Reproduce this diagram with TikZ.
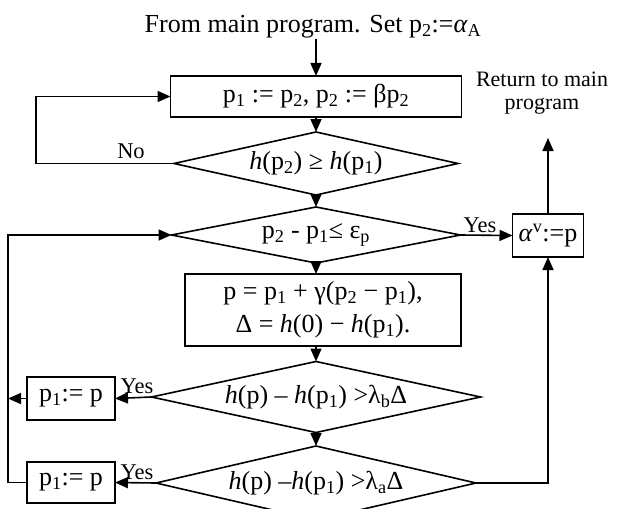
\documentclass[tikz,border=0pt]{standalone}
\usepackage{fontspec}
\setmainfont{Liberation Serif}
\usetikzlibrary{arrows.meta,shapes.geometric}
\newcommand{\sbx}[1]{\textsubscript{#1}}
\newcommand{\spx}[1]{\textsuperscript{#1}}
\begin{document}
\begin{tikzpicture}[x=1pt,y=-1pt,
  every node/.style={font=\fontsize{26}{33}\selectfont},
  box/.style={draw, line width=1.6pt, rectangle, inner sep=0pt, outer sep=0pt},
  dia/.style={draw, line width=1.6pt, diamond, inner sep=0pt, outer sep=0pt},
  lbl/.style={font=\fontsize{22.5}{26}\selectfont, inner sep=0pt},
  conn/.style={line width=1.6pt},
  arr/.style={conn, -{Triangle[length=13pt,width=11pt]}}]
\useasboundingbox (0,0) rectangle (617,508);
\clip (0,0) rectangle (617,508);
% nodes
\node[inner sep=0pt, anchor=base] (start) at (313,33) {From main program. Set p\sbx{2}:=\textit{α}\sbx{A}};
\node[box, minimum width=291pt, minimum height=41pt] (b1) at (316,96.5) {p\sbx{1} := p\sbx{2}, p\sbx{2} := βp\sbx{2}};
\node[dia, minimum width=284pt, minimum height=63pt,
  label={center:\textit{h}(p\sbx{2}) ≥ \textit{h}(p\sbx{1})}] (d1) at (316,163.5) {};
\node[dia, minimum width=289pt, minimum height=56pt,
  label={center:p\sbx{2} - p\sbx{1}≤ ε\sbx{p}}] (d2) at (316,235) {};
\node[box, minimum width=276pt, minimum height=72pt, align=center] (b2) at (323,310)
  {p = p\sbx{1} + γ(p\sbx{2} − p\sbx{1}),\\ Δ = \textit{h}(0) − \textit{h}(p\sbx{1}).};
\node[dia, minimum width=329pt, minimum height=71pt,
  label={center:\textit{h}(p) – \textit{h}(p\sbx{1}) >λ\sbx{b}Δ}] (d3) at (316,397) {};
\node[dia, minimum width=320pt, minimum height=74pt,
  label={center:\textit{h}(p) –\textit{h}(p\sbx{1}) >λ\sbx{a}Δ}] (d4) at (316,483) {};
\node[box, minimum width=71pt, minimum height=43pt] (al) at (548,235.5) {\textit{α}\spx{v}:=p};
\node[box, minimum width=88pt, minimum height=43pt] (pt) at (71,398.5) {p\sbx{1}:= p};
\node[box, minimum width=88pt, minimum height=41pt] (pb) at (71,482.5) {p\sbx{1}:= p};
\node[lbl, align=center, font=\fontsize{22}{23}\selectfont] (ret) at (542,93) {Return to main\\program};
\node[lbl] (no) at (131,151) {No};
\node[lbl] (y1) at (480,225) {Yes};
\node[lbl] (y2) at (137,386) {Yes};
\node[lbl] (y3) at (137,472) {Yes};
\coordinate (L1) at (36,163.5);
\coordinate (L2) at (8,482.5);
\coordinate (R) at (548,138);
% connectors
\draw[arr] (b1.north |- start.south) -- (b1.north);
\draw[arr] (b1.south) -- (d1.north);
\draw[arr] (d1.south) -- (d2.north);
\draw[arr] (d2.south) -- (d2.south |- b2.north);
\draw[arr] (b2.south -| d3.north) -- (d3.north);
\draw[arr] (d3.south) -- (d4.north);
\draw[arr] (d1.west) -- (L1) |- (b1.west);
\draw[arr] (d2.east) -- (al.west);
\draw[arr] (al.north) -- (R);
\draw[arr] (d4.east) -| (al.south);
\draw[arr] (d3.west) -- (pt.east);
\draw[arr] (pt.west) -- (pt.west -| L2);
\draw[arr] (pb.west) -- (L2) |- (d2.west);
\draw[arr] (d4.west) -- (pb.east);
\end{tikzpicture}
\end{document}
